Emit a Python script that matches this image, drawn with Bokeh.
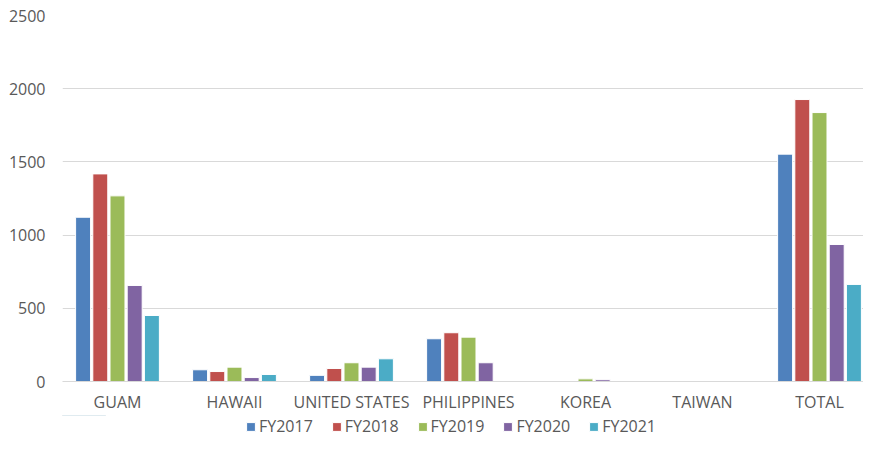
from bokeh.plotting import figure
from bokeh.layouts import column
from bokeh.models import ColumnDataSource, FixedTicker, Range1d, Legend, LegendItem
from bokeh.transform import dodge
from bokeh.embed import file_html
from bokeh.resources import INLINE

categories = ["GUAM", "HAWAII", "UNITED STATES", "PHILIPPINES", "KOREA", "TAIWAN", "TOTAL"]
series_names = ["FY2017", "FY2018", "FY2019", "FY2020", "FY2021"]
fy2017 = [1122, 80, 42, 292, 0, 0, 1553]
fy2018 = [1418, 68, 89, 333, 0, 0, 1926]
fy2019 = [1268, 98, 128, 303, 18, 0, 1837]
fy2020 = [656, 27, 98, 128, 12, 0, 936]
fy2021 = [451, 48, 155, 0, 0, 0, 663]
colors = ["#4F81BD", "#C0504D", "#9BBB59", "#8064A2", "#4BACC6"]
y_ticks = [0, 500, 1000, 1500, 2000, 2500]

series = [fy2017, fy2018, fy2019, fy2020, fy2021]
data = {"x": list(range(len(categories)))}
for name, vals in zip(series_names, series):
    data[name] = vals
source = ColumnDataSource(data)

FONT = "Open Sans"
GREY = "#595959"

p = figure(
    output_backend="svg", toolbar_location=None,
    frame_width=801, frame_height=366,
    x_range=Range1d(-0.47, 6.376), y_range=Range1d(0, 2500),
    min_border_left=62, min_border_right=0, min_border_top=15, min_border_bottom=0,
)
p.outline_line_color = None
p.background_fill_color = "white"
p.border_fill_color = "white"

step = 0.147
offsets = [-2 * step, -step, 0, step, 2 * step]
for name, col, off in zip(series_names, colors, offsets):
    p.vbar(x=dodge("x", off), top=name, width=0.128, bottom=0, source=source,
           fill_color=col, line_color="white", line_width=1)

p.xgrid.grid_line_color = None
p.ygrid.grid_line_color = "#d9d9d9"
p.ygrid.grid_line_width = 1
p.yaxis.ticker = FixedTicker(ticks=y_ticks)
p.yaxis.axis_line_color = None
p.yaxis.major_tick_line_color = None
p.yaxis.minor_tick_line_color = None
p.yaxis.major_tick_out = 0
p.yaxis.major_label_text_font = FONT
p.yaxis.major_label_text_font_size = "16px"
p.yaxis.major_label_text_color = GREY
p.yaxis.major_label_standoff = 17

p.xaxis.ticker = FixedTicker(ticks=list(range(len(categories))))
p.xaxis.major_label_overrides = {i: c for i, c in enumerate(categories)}
p.xaxis.axis_line_color = "#d9d9d9"
p.xaxis.major_tick_line_color = None
p.xaxis.minor_tick_line_color = None
p.xaxis.major_tick_out = 0
p.xaxis.major_label_text_font = FONT
p.xaxis.major_label_text_font_size = "16px"
p.xaxis.major_label_text_color = GREY
p.xaxis.major_label_standoff = 9

# legend strip below the chart (its bars use the same data but lie outside its view)
lg = figure(
    output_backend="svg", toolbar_location=None,
    frame_width=863, frame_height=22,
    x_range=Range1d(0, 1), y_range=Range1d(-2, -1),
    x_axis_location=None, y_axis_location=None,
    min_border_left=0, min_border_right=0, min_border_top=0, min_border_bottom=0,
)
lg.outline_line_color = None
lg.xgrid.grid_line_color = None
lg.ygrid.grid_line_color = None
items = []
for name, col in zip(series_names, colors):
    r = lg.vbar(x="x", top=name, bottom=0, width=0.1, source=source,
                fill_color=col, line_color="white", line_width=1)
    items.append(LegendItem(label=name, renderers=[r]))
legend = Legend(items=items, orientation="horizontal", location=(245, 0),
                glyph_width=11, glyph_height=11, label_standoff=3, spacing=18,
                label_text_font=FONT, label_text_font_size="16px",
                label_text_color=GREY, border_line_color=None,
                background_fill_alpha=0, padding=0, margin=0, label_height=14)
lg.add_layout(legend, "center")

layout = column(p, lg, spacing=0)
open("out.html", "w").write(file_html(layout, INLINE))
